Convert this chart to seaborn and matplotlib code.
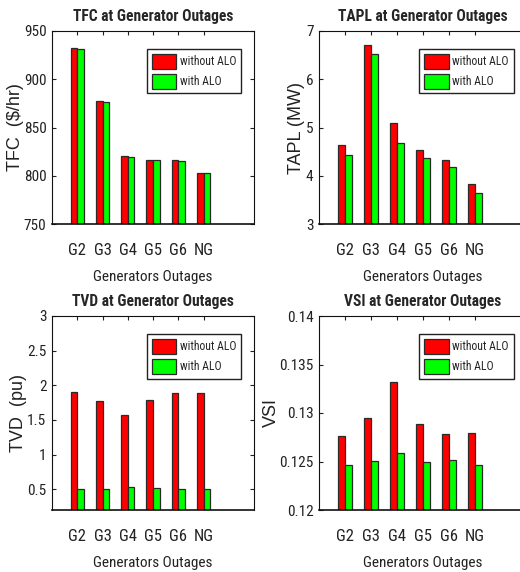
import matplotlib
matplotlib.use("Agg")
import matplotlib.pyplot as plt
from matplotlib import font_manager
from matplotlib.font_manager import FontProperties
import seaborn as sns
import pandas as pd

categories = ["G2", "G3", "G4", "G5", "G6", "NG"]
series_names = ["without ALO", "with ALO"]

tfc_without = [932.0, 877.5, 820.5, 816.5, 816.0, 803.0]
tfc_with = [931.0, 876.5, 819.0, 816.0, 815.5, 802.5]

tapl_without = [4.63, 6.71, 5.10, 4.54, 4.33, 3.82]
tapl_with = [4.42, 6.53, 4.67, 4.37, 4.18, 3.65]

tvd_without = [1.90, 1.77, 1.57, 1.79, 1.89, 1.89]
tvd_with = [0.50, 0.51, 0.53, 0.52, 0.51, 0.51]

vsi_without = [0.12765, 0.12945, 0.13315, 0.12882, 0.12785, 0.12789]
vsi_with = [0.12464, 0.12505, 0.12592, 0.12495, 0.12516, 0.12464]

titles = ["TFC at Generator Outages", "TAPL at Generator Outages",
          "TVD at Generator Outages", "VSI at Generator Outages"]
ylabels = ["TFC  ($/hr)", "TAPL (MW)", "TVD  (pu)", "VSI"]
xlabel = "Generators Outages"

tfc_ticks = ["750", "800", "850", "900", "950"]
tapl_ticks = ["3", "4", "5", "6", "7"]
tvd_ticks = ["0.5", "1", "1.5", "2", "2.5", "3"]
vsi_ticks = ["0.12", "0.125", "0.13", "0.135", "0.14"]


def find_font(bold):
    fl = font_manager.fontManager.ttflist
    want_w = (lambda w: (w if isinstance(w, int) else 700 if "bold" in str(w) else 400))
    prefs = [
        lambda f: f.name == "Liberation Sans Narrow",
        lambda f: f.name == "Roboto Condensed",
        lambda f: f.name == "Open Sans Condensed",
        lambda f: f.name == "DejaVu Sans" and f.stretch == "condensed",
        lambda f: "Narrow" in f.name or "Condensed" in f.name,
    ]
    for p in prefs:
        cands = [f for f in fl if p(f) and f.style == "normal"]
        if cands:
            target = 700 if bold else 400
            cands.sort(key=lambda f: abs(want_w(f.weight) - target))
            return FontProperties(fname=cands[0].fname), True
    return FontProperties(family="Liberation Sans",
                          weight="bold" if bold else "normal"), False


reg_fp, has_narrow = find_font(False)
bold_fp, _ = find_font(True)

sns.set_theme(style="white")
plt.rcParams["font.family"] = ["Liberation Sans", "DejaVu Sans"]

scale = 1.0 if has_narrow else 0.85

W, H = 520, 572
fig = plt.figure(figsize=(W / 100, H / 100), dpi=100)

panels = [
    (tfc_without, tfc_with, tfc_ticks, (750, 950)),
    (tapl_without, tapl_with, tapl_ticks, (3, 7)),
    (tvd_without, tvd_with, tvd_ticks, (0.2, 3)),
    (vsi_without, vsi_with, vsi_ticks, (0.12, 0.14)),
]

positions = [
    (52, 31, 202, 193),
    (319, 31, 208, 193),
    (52, 316, 202, 194),
    (319, 316, 208, 194),
]
ylabel_x = [-0.139, -0.067, -0.124, -0.1875]

palette = {"without ALO": "#ff0000", "with ALO": "#00ff00"}


def fp(base, size):
    p = base.copy()
    p.set_size(size)
    return p


for i, (wo, wi, ticks, ylim) in enumerate(panels):
    x0, y0, w, h = positions[i]
    ax = fig.add_axes([x0 / W, 1 - (y0 + h) / H, w / W, h / H])
    df = pd.DataFrame({
        "Outage": categories * 2,
        "Series": [series_names[0]] * len(categories) + [series_names[1]] * len(categories),
        "Value": list(wo) + list(wi),
    })
    sns.barplot(data=df, x="Outage", y="Value", hue="Series", palette=palette,
                width=0.52, gap=0, edgecolor="#2a2a2a", linewidth=0.9,
                saturation=1, ax=ax, legend=True)
    ax.set_xlim(-1, 7)
    ax.set_ylim(*ylim)
    ax.set_yticks([float(t) for t in ticks])
    ax.set_yticklabels(ticks, fontproperties=fp(reg_fp, 11 * scale), color="#222222")
    ax.set_xticks(range(len(categories)))
    ax.set_xticklabels(categories, fontproperties=fp(reg_fp, 12 * scale), color="#222222")
    ax.tick_params(direction="in", length=3, width=0.8, top=True, right=True,
                   bottom=True, left=True, color="#222222", pad=4)
    ax.tick_params(axis="x", pad=14)
    for s in ax.spines.values():
        s.set_color("#111111")
        s.set_linewidth(0.8)
    ax.spines["bottom"].set_linewidth(1.2)
    ax.set_title(titles[i], fontproperties=fp(bold_fp, 11.2 * scale), pad=7)
    ax.set_xlabel(xlabel, fontproperties=fp(reg_fp, 11 * scale), labelpad=8, color="#222222")
    ax.set_ylabel(ylabels[i], fontsize=13, family=["Liberation Sans", "DejaVu Sans"],
                  color="#222222")
    ax.yaxis.set_label_coords(ylabel_x[i], 0.5)
    handles, labels = ax.get_legend_handles_labels()
    ax.legend(handles, labels, loc="upper right", bbox_to_anchor=(0.936, 0.907),
              prop=fp(reg_fp, 8.5 * scale), frameon=True, fancybox=False,
              edgecolor="#222222", framealpha=1, handlelength=2.1, handleheight=1.6,
              handletextpad=0.3, borderpad=0.4, labelspacing=0.4,
              borderaxespad=0)

fig.savefig("out.png", dpi=100)
